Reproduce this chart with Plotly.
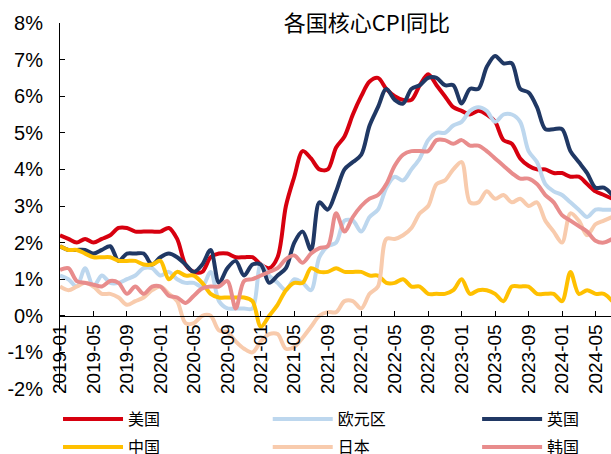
import plotly.graph_objects as go

months = [f"{y}-{m:02d}" for y in range(2019, 2025) for m in range(1, 13)][:67]
tick_labels = months[0:65:4]

us = [2.2, 2.1, 2.0, 2.1, 2.0, 2.1, 2.2, 2.4, 2.4, 2.3, 2.3, 2.3,
      2.3, 2.4, 2.1, 1.4, 1.2, 1.2, 1.6, 1.7, 1.7, 1.6, 1.6, 1.6,
      1.4, 1.3, 1.6, 3.0, 3.8, 4.5, 4.3, 4.0, 4.0, 4.6, 4.9, 5.5,
      6.0, 6.4, 6.5, 6.2, 6.0, 5.9, 5.9, 6.3, 6.6, 6.3, 6.0, 5.7,
      5.6, 5.5, 5.6, 5.5, 5.3, 4.8, 4.7, 4.3, 4.1, 4.0, 4.0, 3.9,
      3.9, 3.8, 3.8, 3.6, 3.4, 3.3, 3.2]
ez = [1.1, 1.0, 0.8, 1.3, 0.8, 1.1, 0.9, 0.9, 1.0, 1.1, 1.3, 1.3,
      1.1, 1.2, 1.0, 0.9, 0.9, 0.8, 1.2, 0.4, 0.2, 0.2, 0.2, 0.2,
      1.4, 1.1, 0.9, 0.7, 1.0, 0.9, 0.7, 1.6, 1.9, 2.0, 2.6, 2.6,
      2.3, 2.7, 2.9, 3.5, 3.8, 3.7, 4.0, 4.3, 4.8, 5.0, 5.0, 5.2,
      5.3, 5.6, 5.7, 5.6, 5.3, 5.5, 5.5, 5.3, 4.5, 4.2, 3.6, 3.4,
      3.3, 3.1, 2.9, 2.7, 2.9, 2.9, 2.9]
uk = [1.9, 1.8, 1.8, 1.8, 1.7, 1.8, 1.9, 1.5, 1.7, 1.7, 1.7, 1.4,
      1.6, 1.7, 1.6, 1.4, 1.2, 1.4, 1.8, 0.9, 1.3, 1.5, 1.1, 1.4,
      1.4, 0.9, 1.1, 1.3, 2.0, 2.3, 1.8, 3.1, 2.9, 3.4, 4.0, 4.2,
      4.4, 5.2, 5.7, 6.2, 5.9, 5.8, 6.2, 6.3, 6.5, 6.5, 6.3, 6.3,
      5.8, 6.2, 6.2, 6.8, 7.1, 6.9, 6.9, 6.2, 6.1, 5.7, 5.1, 5.1,
      5.1, 4.5, 4.2, 3.9, 3.5, 3.5, 3.3]
cn = [1.9, 1.8, 1.8, 1.7, 1.6, 1.6, 1.6, 1.5, 1.5, 1.5, 1.4, 1.4,
      1.5, 1.0, 1.2, 1.1, 1.1, 0.9, 0.6, 0.5, 0.5, 0.5, 0.5, 0.4,
      -0.3, 0.0, 0.3, 0.7, 0.9, 0.9, 1.3, 1.2, 1.2, 1.3, 1.2, 1.2,
      1.2, 1.1, 1.1, 0.9, 0.9, 1.0, 0.8, 0.8, 0.6, 0.6, 0.6, 0.7,
      1.0, 0.6, 0.7, 0.7, 0.6, 0.4, 0.8, 0.8, 0.8, 0.6, 0.6, 0.6,
      0.4, 1.2, 0.6, 0.7, 0.6, 0.6, 0.4]
jp = [0.8, 0.7, 0.8, 0.9, 0.8, 0.6, 0.6, 0.5, 0.3, 0.4, 0.5, 0.7,
      0.8, 0.6, 0.4, -0.2, -0.2, 0.0, 0.0, -0.4, -0.45, -0.7, -0.9, -1.0,
      -0.7, -0.5, -0.5, -0.9, -0.85, -0.6, -0.3, 0.0, 0.1, 0.1, 0.4, 0.4,
      0.2, 0.6, 0.8, 2.1, 2.1, 2.2, 2.4, 2.8, 3.0, 3.6, 3.7, 4.0,
      4.2, 3.1, 3.1, 3.4, 3.2, 3.3, 3.1, 3.2, 3.0, 3.1, 2.6, 2.3,
      2.0, 2.8, 2.6, 2.2, 2.5, 2.6, 2.7]
kr = [1.25, 1.3, 0.95, 0.9, 0.85, 0.8, 0.95, 0.9, 0.6, 0.8, 0.6, 0.8,
      0.8, 0.55, 0.5, 0.35, 0.55, 0.75, 0.8, 0.8, 0.95, 0.2, 0.95, 1.0,
      1.1, 1.2, 1.3, 1.55, 1.65, 1.45, 1.7, 1.85, 1.9, 2.8, 2.3, 2.7,
      3.0, 3.2, 3.3, 3.6, 4.1, 4.4, 4.5, 4.5, 4.5, 4.8, 4.8, 4.7,
      4.8, 4.65, 4.65, 4.5, 4.3, 4.1, 3.9, 3.75, 3.75, 3.6, 3.3, 3.1,
      2.75, 2.6, 2.45, 2.3, 2.05, 2.0, 2.1]

series = [
    ("美国", us, "#D7000F", "legend"),
    ("欧元区", ez, "#BDD7EE", "legend2"),
    ("英国", uk, "#203864", "legend3"),
    ("中国", cn, "#FFC000", "legend"),
    ("日本", jp, "#F8CBAD", "legend2"),
    ("韩国", kr, "#E88C8C", "legend3"),
]

fig = go.Figure()
for name, vals, color, leg in series:
    fig.add_trace(go.Scatter(
        x=months, y=vals, name=name, mode="lines",
        line=dict(color=color, width=4, shape="spline", smoothing=0.9),
        legend=leg, legendgroup=name,
    ))

cjk = "Noto Sans CJK SC"
leg_common = dict(orientation="v", traceorder="grouped", tracegroupgap=4,
                  itemwidth=60, xanchor="left", yanchor="top",
                  bgcolor="rgba(0,0,0,0)", borderwidth=0,
                  font=dict(family=cjk, size=16, color="#000000"))

fig.update_layout(
    width=611, height=454,
    margin=dict(l=60, r=0, t=23, b=65, autoexpand=False),
    paper_bgcolor="white", plot_bgcolor="white",
    showlegend=True,
    title=dict(text="各国核心CPI同比", x=0.557, xanchor="center", xref="paper",
               y=0.948, yref="container", yanchor="middle",
               font=dict(family=cjk, size=22, color="#000000")),
    legend=dict(x=-0.0036, y=-0.036, **leg_common),
    legend2=dict(x=0.377, y=-0.036, **leg_common),
    legend3=dict(x=0.757, y=-0.036, **leg_common),
    xaxis=dict(type="category", range=[0, 65.85], anchor="free", position=0.2,
               tickmode="array", tickvals=tick_labels, ticktext=tick_labels,
               tickangle=-90, ticks="inside", ticklen=5, tickcolor="#000000",
               showline=True, linecolor="#000000", linewidth=1,
               showgrid=False, zeroline=False,
               tickfont=dict(family="Liberation Sans, Arial", size=19, color="#000000")),
    yaxis=dict(range=[-2, 8], tickvals=list(range(-2, 9)),
               ticktext=[f"{v}%" for v in range(-2, 9)],
               ticks="inside", ticklen=5, tickcolor="#000000",
               showline=True, linecolor="#000000", linewidth=1,
               showgrid=False, zeroline=False, ticklabelstandoff=12,
               tickfont=dict(family="Liberation Sans, Arial", size=20, color="#000000")),
)

fig.write_html("out.html", config={"displayModeBar": False},
               post_script="document.body.style.margin='0';")
